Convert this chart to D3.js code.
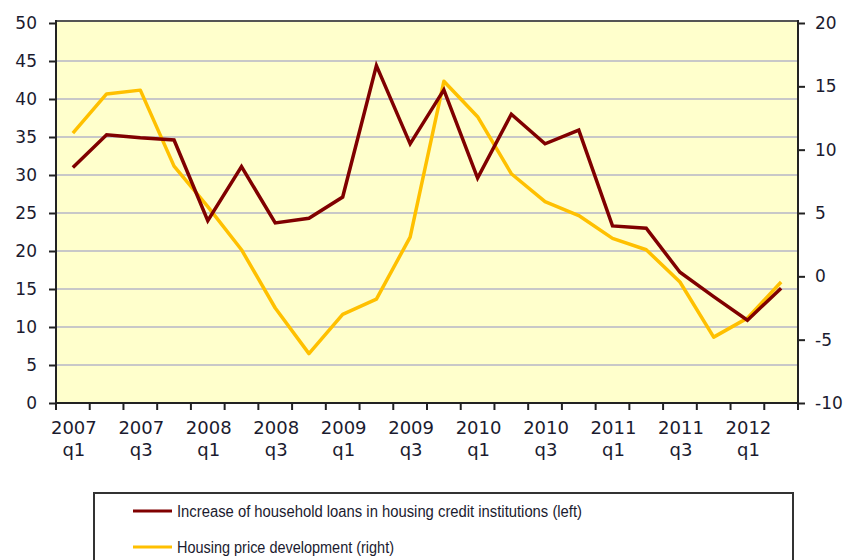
<!DOCTYPE html>
<html>
<head>
<meta charset="utf-8">
<script src="https://cdn.jsdelivr.net/npm/d3@7"></script>
<style>
  body { margin: 0; background: #fff; }
  svg text { font-family: "DejaVu Sans", Verdana, sans-serif; fill: #1b1b2f; }
</style>
</head>
<body>
<div id="chart-area"></div>
<script>
// quarters 2007 q1 .. 2012 q2
const quarters = ["2007 q1", "2007 q2", "2007 q3", "2007 q4",
    "2008 q1", "2008 q2", "2008 q3", "2008 q4",
    "2009 q1", "2009 q2", "2009 q3", "2009 q4",
    "2010 q1", "2010 q2", "2010 q3", "2010 q4",
    "2011 q1", "2011 q2", "2011 q3", "2011 q4",
    "2012 q1", "2012 q2"];

// left axis series
const loans = [31.0, 35.3, 34.9, 34.6, 24.0, 31.1, 23.7, 24.3, 27.1, 44.4, 34.1, 41.2,
    29.6, 38.0, 34.1, 35.9, 23.3, 23.0, 17.2, 14.0, 10.9, 15.1];

// right axis series
const prices = [11.3, 14.4, 14.7, 8.7, 5.5, 2.1, -2.5, -6.1, -3.0, -1.8, 3.1, 15.4,
    12.6, 8.1, 5.9, 4.8, 3.0, 2.1, -0.45, -4.8, -3.3, -0.45];

const leftTicks = [0, 5, 10, 15, 20, 25, 30, 35, 40, 45, 50];
const rightTicks = [-10, -5, 0, 5, 10, 15, 20];

const legendLabels = ["Increase of household loans in housing credit institutions (left)",
    "Housing price development (right)"];

const colors = ["#800000", "#ffc000"];

const width = 846, height = 560;
const plot = { left: 56, right: 798, top: 23, bottom: 403 };

const svg = d3.select('#chart-area')
    .append('svg')
    .attr('width', width)
    .attr('height', height);

const x = d3.scaleBand()
    .domain(quarters)
    .range([plot.left, plot.right]);

const yLeft = d3.scaleLinear()
    .domain([0, 50])
    .range([plot.bottom, plot.top]);

const yRight = d3.scaleLinear()
    .domain([-10, 20])
    .range([plot.bottom, plot.top]);

// plot background
svg.append("rect")
    .attr("x", plot.left)
    .attr("y", plot.top - 2)
    .attr("width", plot.right - plot.left)
    .attr("height", plot.bottom - plot.top + 2)
    .attr("fill", "#ffffcc");

// gridlines
svg.append("g")
    .selectAll("line")
    .data(leftTicks.slice(1, -1))
    .join("line")
    .attr("x1", plot.left)
    .attr("x2", plot.right)
    .attr("y1", d => yLeft(d))
    .attr("y2", d => yLeft(d))
    .attr("stroke", "#c8c8c8")
    .attr("stroke-width", 2);

// top border
svg.append("line")
    .attr("x1", plot.left).attr("x2", plot.right)
    .attr("y1", plot.top - 2).attr("y2", plot.top - 2)
    .attr("stroke", "#555").attr("stroke-width", 2);

// Left axis
const leftAxis = svg.append("g")
    .attr("transform", "translate(" + plot.left + ",0)")
    .call(d3.axisLeft(yLeft).tickValues(leftTicks).tickFormat(d => String(d))
        .tickSize(7).tickSizeOuter(0).tickPadding(12));

// Right axis
const rightAxis = svg.append("g")
    .attr("transform", "translate(" + plot.right + ",0)")
    .call(d3.axisRight(yRight).tickValues(rightTicks).tickFormat(d => String(d))
        .tickSize(7).tickSizeOuter(0).tickPadding(10));

// X axis: ticks at category boundaries
const xAxisGroup = svg.append("g")
    .attr("transform", "translate(0," + plot.bottom + ")");

xAxisGroup.append("line")
    .attr("x1", plot.left).attr("x2", plot.right)
    .attr("stroke", "#222").attr("stroke-width", 2);

xAxisGroup.selectAll("line.tick")
    .data(quarters.concat(["end"]))
    .join("line")
    .attr("class", "tick")
    .attr("x1", (d, i) => plot.left + i * x.step())
    .attr("x2", (d, i) => plot.left + i * x.step())
    .attr("y1", 0)
    .attr("y2", 7)
    .attr("stroke", "#222")
    .attr("stroke-width", 2);

const xLabels = xAxisGroup.selectAll("text")
    .data(quarters.filter((d, i) => i % 2 === 0))
    .join("text")
    .attr("x", d => x(d) + x.bandwidth() / 2)
    .attr("text-anchor", "middle")
    .style("font-size", "18px");

xLabels.append("tspan")
    .attr("x", d => x(d) + x.bandwidth() / 2 + 1)
    .attr("y", 31)
    .text(d => d.split(" ")[0]);

xLabels.append("tspan")
    .attr("x", d => x(d) + x.bandwidth() / 2 + 1)
    .attr("y", 53)
    .text(d => d.split(" ")[1]);

[leftAxis, rightAxis].forEach(g => {
    g.select(".domain").attr("stroke", "#222").attr("stroke-width", 2);
    g.selectAll(".tick line").attr("stroke", "#222").attr("stroke-width", 2);
    g.selectAll(".tick text")
        .style("font-size", "17px")
        .style("font-family", "'DejaVu Sans', Verdana, sans-serif")
        .attr("fill", "#1b1b2f");
});
// axis lines span the border
leftAxis.select(".domain").attr("d", "M0," + (plot.top - 3) + "V" + (plot.bottom + 1));
rightAxis.select(".domain").attr("d", "M0," + (plot.top - 3) + "V" + (plot.bottom + 1));

// lines
const lineLeft = d3.line()
    .x((d, i) => x(quarters[i]) + x.bandwidth() / 2)
    .y(d => yLeft(d));

const lineRight = d3.line()
    .x((d, i) => x(quarters[i]) + x.bandwidth() / 2)
    .y(d => yRight(d));

svg.append("path")
    .datum(prices)
    .attr("d", lineRight)
    .attr("fill", "none")
    .attr("stroke", colors[1])
    .attr("stroke-width", 3.5)
    .attr("stroke-linejoin", "round");

svg.append("path")
    .datum(loans)
    .attr("d", lineLeft)
    .attr("fill", "none")
    .attr("stroke", colors[0])
    .attr("stroke-width", 3.5)
    .attr("stroke-linejoin", "miter");

// Legend
const legend = svg.append("g");

legend.append("rect")
    .attr("x", 94)
    .attr("y", 493)
    .attr("width", 699)
    .attr("height", 80)
    .attr("fill", "#fff")
    .attr("stroke", "#333")
    .attr("stroke-width", 2);

const items = legend.selectAll("g.item")
    .data(legendLabels)
    .join("g")
    .attr("class", "item")
    .attr("transform", (d, i) => "translate(133," + (511 + i * 36) + ")");

items.append("line")
    .attr("x1", 0).attr("x2", 39)
    .attr("stroke", (d, i) => colors[i])
    .attr("stroke-width", 3);

items.append("text")
    .attr("x", 44)
    .attr("y", 6)
    .style("font-size", "16px")
    .style("font-family", "'Liberation Sans', Arial, sans-serif")
    .attr("textLength", (d, i) => i === 0 ? 405 : 217)
    .attr("lengthAdjust", "spacingAndGlyphs")
    .text(d => d);
</script>
</body>
</html>
